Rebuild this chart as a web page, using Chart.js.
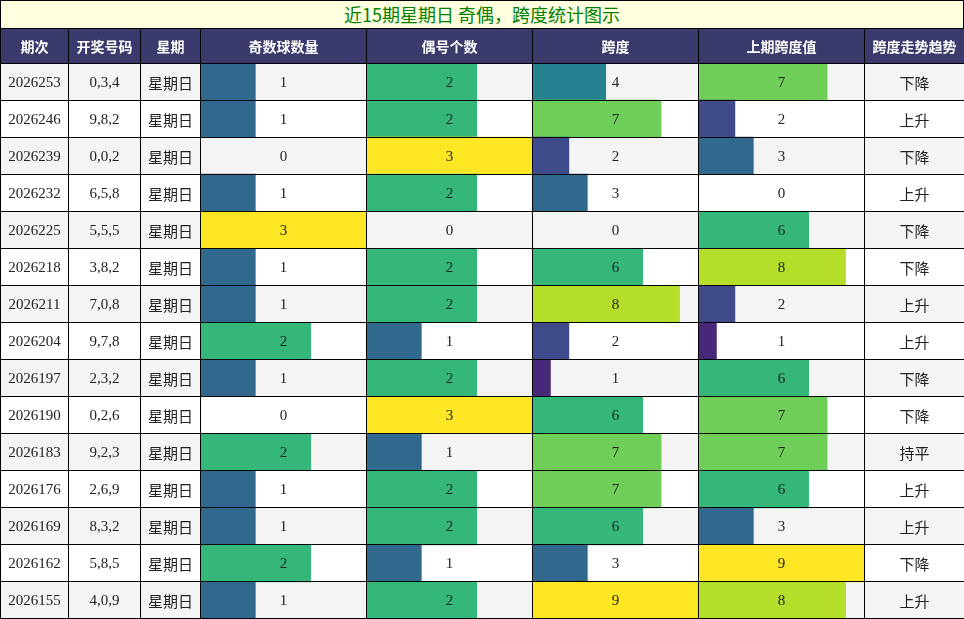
<!DOCTYPE html>
<html><head><meta charset="utf-8">
<script src="https://cdn.jsdelivr.net/npm/chart.js@4"></script>
<style>
body{margin:0;width:964px;height:619px;overflow:hidden;background:#fff;position:relative}
#title{position:absolute;left:0;top:0;width:962px;height:27px;border:1px solid #000;background:#ffffe0;color:#008000;font:18px "Noto Sans CJK SC";text-align:center;line-height:27px}
table{position:absolute;left:0;top:28px;width:964px;border-collapse:collapse;table-layout:fixed;z-index:2}
td,th{border:1px solid #000;text-align:center;padding:0;overflow:hidden;white-space:nowrap}
th{background:#3a3a6c;color:#fff;font:bold 14px "Noto Sans CJK SC";height:34px}
td{height:36px;font:15px "Liberation Serif";color:#222}
td.cj{font:15px "Noto Sans CJK SC"}
tr.g td.s{background:#f4f4f4}
canvas{position:absolute;top:63px;z-index:1}
</style></head><body>
<div id="title">近15期星期日 奇偶，跨度统计图示</div>
<table id="t"><colgroup><col style="width:68px"><col style="width:72px"><col style="width:60px"><col style="width:166px"><col style="width:166px"><col style="width:166px"><col style="width:166px"><col style="width:100px"></colgroup>
<tr><th>期次</th><th>开奖号码</th><th>星期</th><th>奇数球数量</th><th>偶号个数</th><th>跨度</th><th>上期跨度值</th><th>跨度走势趋势</th></tr></table>
<canvas id="c0" width="166" height="556" style="left:200px"></canvas>
<canvas id="c1" width="166" height="556" style="left:366px"></canvas>
<canvas id="c2" width="166" height="556" style="left:532px"></canvas>
<canvas id="c3" width="166" height="556" style="left:698px"></canvas>
<script>
const issues=["2026253","2026246","2026239","2026232","2026225","2026218","2026211","2026204","2026197","2026190","2026183","2026176","2026169","2026162","2026155"];
const draws=["0,3,4","9,8,2","0,0,2","6,5,8","5,5,5","3,8,2","7,0,8","9,7,8","2,3,2","0,2,6","9,2,3","2,6,9","8,3,2","5,8,5","4,0,9"];
const odd=[1,1,0,1,3,1,1,2,1,0,2,1,1,2,1];
const even=[2,2,3,2,0,2,2,1,2,3,1,2,2,1,2];
const span=[4,7,2,3,0,6,8,2,1,6,7,7,6,3,9];
const prevSpan=[7,2,3,0,6,8,2,1,6,7,7,6,3,9,8];
const trend=["下降","上升","下降","上升","下降","下降","上升","上升","下降","下降","持平","上升","上升","下降","上升"];
const weekday="星期日";
const vir=["#440154","#482878","#3e4a89","#31688e","#26828e","#1f9e89","#35b779","#6ece58","#b5de2b","#fde725"];
function col(v,m){return vir[Math.round(v/m*9)];}
const t=document.getElementById('t');
issues.forEach((iss,i)=>{
 const tr=document.createElement('tr');if(i%2==0)tr.className='g';
 tr.innerHTML=`<td class="s">${iss}</td><td class="s">${draws[i]}</td><td class="s cj">${weekday}</td><td>${odd[i]}</td><td>${even[i]}</td><td>${span[i]}</td><td>${prevSpan[i]}</td><td class="s cj">${trend[i]}</td>`;
 t.appendChild(tr);
});
const stripe={id:'stripe',beforeDraw(ch){const c=ch.ctx,y=ch.scales.y;c.save();c.fillStyle='#f4f4f4';
 ch.data.labels.forEach((l,i)=>{if(i%2==0){const p=y.getPixelForValue(i),h=y.height/ch.data.labels.length;c.fillRect(0,p-h/2,ch.width,h);}});c.restore();}};
[[odd,3],[even,3],[span,9],[prevSpan,9]].forEach(([d,m],k)=>{
 new Chart(document.getElementById('c'+k),{type:'bar',plugins:[stripe],
  data:{labels:issues,datasets:[{data:d,backgroundColor:d.map(v=>col(v,m)),barPercentage:1,categoryPercentage:1,borderWidth:0}]},
  options:{indexAxis:'y',responsive:false,animation:false,devicePixelRatio:1,layout:{padding:0},
   plugins:{legend:{display:false},tooltip:{enabled:false}},
   scales:{x:{display:false,min:0,max:m},y:{display:false}}}});
});
</script></body></html>
